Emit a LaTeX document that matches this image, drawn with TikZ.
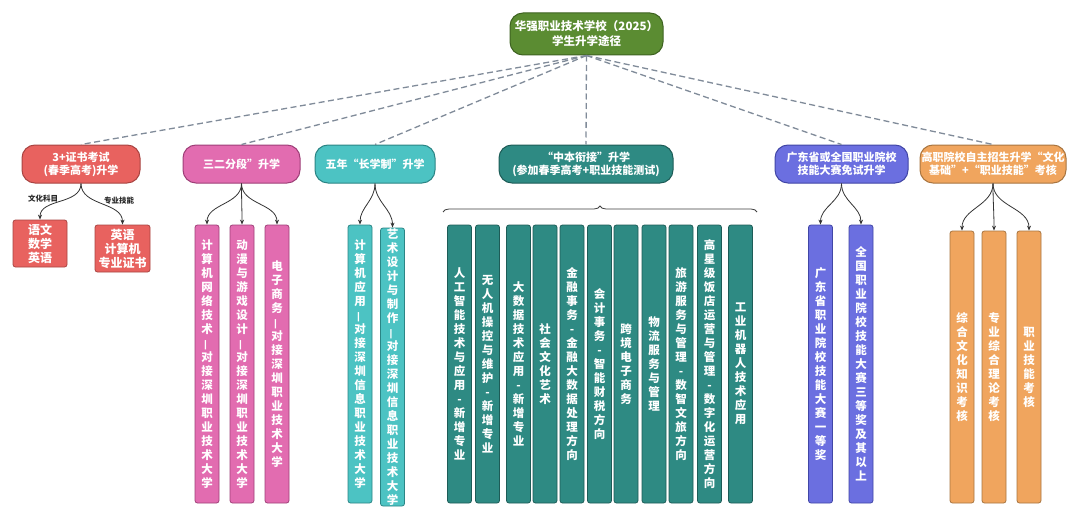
\documentclass[tikz,border=0pt]{standalone}
\usepackage{fontspec}
\usepackage{graphicx}
\setmainfont{Noto Sans CJK SC}
\usetikzlibrary{arrows.meta,decorations.pathreplacing}
\definecolor{cRoot}{HTML}{5B8C32}\definecolor{bRoot}{HTML}{3E6321}
\definecolor{cRed}{HTML}{E8625F}\definecolor{bRed}{HTML}{A94442}
\definecolor{cPink}{HTML}{E26CB0}\definecolor{bPink}{HTML}{9E3F78}
\definecolor{cLT}{HTML}{4CC3C3}\definecolor{bLT}{HTML}{2B8585}
\definecolor{cDT}{HTML}{2E8A83}\definecolor{bDT}{HTML}{1D5C57}
\definecolor{cBlue}{HTML}{6B6FE0}\definecolor{bBlue}{HTML}{4146A6}
\definecolor{cOr}{HTML}{F0A55E}\definecolor{bOr}{HTML}{A87540}
\definecolor{dashc}{HTML}{808B99}
\def\vtend{\vtend}
\def\vtchar#1{\hbox to 1.2em{\hss\ifx#1—\rotatebox[origin=c]{90}{—}\else#1\fi\hss}}
\def\vtloop#1{\ifx#1\vtend\else\vtchar{#1}\expandafter\vtloop\fi}
\newcommand\vt[1]{\vbox{\baselineskip=14pt\lineskiplimit=-20pt\lineskip=0pt\vtloop#1\vtend}}
\begin{document}
\begin{tikzpicture}[x=1pt,y=-1pt,
  pill/.style={rounded corners=13pt,line width=1pt,text=white,align=center,inner sep=0pt,font=\fontsize{11}{13}\selectfont\bfseries},
  leaf/.style={rounded corners=2.5pt,line width=0.8pt,text=white,inner sep=0pt,minimum width=24pt,minimum height=278pt,font=\fontsize{11.5}{14}\selectfont\bfseries},
  sbox/.style={rounded corners=2.5pt,line width=0.8pt,text=white,align=center,inner sep=0pt,font=\fontsize{12}{14}\selectfont\bfseries},
  dashln/.style={draw=dashc,line width=1.3pt,dash pattern=on 6pt off 3.5pt},
  arr/.style={draw=black!80,line width=0.8pt,-{Stealth[length=5pt,width=4pt]}},
  elab/.style={font=\fontsize{7.5}{9}\selectfont\bfseries,text=black!85}]
\path[use as bounding box,fill=white] (0,0) rectangle (1080,519);
% root
\node[pill,fill=cRoot,draw=bRoot,minimum width=153pt,minimum height=42pt,font=\fontsize{11.5}{15}\selectfont\bfseries] (root) at (586.5,34) {华强职业技术学校（2025）\\学生升学途径};
% second level
\node[pill,fill=cRed,draw=bRed,minimum width=118pt,minimum height=38pt] (n1) at (81,164) {3+证书考试\\(春季高考)升学};
\node[pill,fill=cPink,draw=bPink,minimum width=117pt,minimum height=38pt] (n2) at (241.5,164) {三二分段”升学};
\node[pill,fill=cLT,draw=bLT,minimum width=120pt,minimum height=38pt] (n3) at (375,164) {五年“长学制”升学};
\node[pill,fill=cDT,draw=bDT,minimum width=174pt,minimum height=38pt] (n4) at (586,164) {“中本衔接”升学\\(参加春季高考+职业技能测试)};
\node[pill,fill=cBlue,draw=bBlue,minimum width=133pt,minimum height=38pt] (n5) at (841.5,164) {广东省或全国职业院校\\技能大赛免试升学};
\node[pill,fill=cOr,draw=bOr,minimum width=146pt,minimum height=38pt] (n6) at (993,164) {高职院校自主招生升学“文化\\基础”+“职业技能”考核};
\foreach \n in {n1,n2,n3,n4,n5,n6} \draw[dashln] (root.south) -- (\n.north);
% node 1 children
\node[sbox,fill=cRed,draw=bRed,minimum width=54pt,minimum height=47pt] (a1) at (40,243.5) {语文\\数学\\英语};
\node[sbox,fill=cRed,draw=bRed,minimum width=55pt,minimum height=47pt] (a2) at (122.5,248.5) {英语\\计算机\\专业证书};
\draw[arr] (n1.south) to[out=-90,in=90] node[elab,pos=0.38,left=6pt] {文化科目} (a1.north);
\draw[arr] (n1.south) to[out=-90,in=90] node[elab,pos=0.38,right=6pt] {专业技能} (a2.north);
% node 2 children
\node[leaf,fill=cPink,draw=bPink] (b1) at (207,364) {\vt{计算机网络技术—对接深圳职业技术大学}};
\node[leaf,fill=cPink,draw=bPink] (b2) at (242,364) {\vt{动漫与游戏设计—对接深圳职业技术大学}};
\node[leaf,fill=cPink,draw=bPink] (b3) at (277,364) {\vt{电子商务—对接深圳职业技术大学}};
\foreach \c in {b1,b2,b3} \draw[arr] (n2.south) to[out=-90,in=90] (\c.north);
% node 3 children
\node[leaf,fill=cLT,draw=bLT] (c1) at (360,364) {\vt{计算机应用—对接深圳信息职业技术大学}};
\node[leaf,fill=cLT,draw=bLT] (c2) at (392.5,367) {\vt{艺术设计与制作—对接深圳信息职业技术大学}};
\foreach \c in {c1,c2} \draw[arr] (n3.south) to[out=-90,in=90] (\c.north);
% node 4 children
\draw[draw=black!75,line width=0.8pt,decorate,decoration={brace,amplitude=6pt}] (443,212) -- (757,212);
\node[leaf,fill=cDT,draw=bDT] (d1) at (459.5,364) {\vt{人工智能技术与应用-新增专业}};
\node[leaf,fill=cDT,draw=bDT] (d2) at (487.5,364) {\vt{无人机操控与维护-新增专业}};
\node[leaf,fill=cDT,draw=bDT] (d3) at (518.5,364) {\vt{大数据技术应用-新增专业}};
\node[leaf,fill=cDT,draw=bDT] (d4) at (545,364) {\vt{社会文化艺术}};
\node[leaf,fill=cDT,draw=bDT] (d5) at (572,364) {\vt{金融事务-金融大数据处理方向}};
\node[leaf,fill=cDT,draw=bDT] (d6) at (599.5,364) {\vt{会计事务-智能财税方向}};
\node[leaf,fill=cDT,draw=bDT] (d7) at (626,364) {\vt{跨境电子商务}};
\node[leaf,fill=cDT,draw=bDT] (d8) at (654,364) {\vt{物流服务与管理}};
\node[leaf,fill=cDT,draw=bDT] (d9) at (681,364) {\vt{旅游服务与管理-数智文旅方向}};
\node[leaf,fill=cDT,draw=bDT] (d10) at (709.5,364) {\vt{高星级饭店运营与管理-数字化运营方向}};
\node[leaf,fill=cDT,draw=bDT] (d11) at (740.5,364) {\vt{工业机器人技术应用}};
% node 5 children
\node[leaf,fill=cBlue,draw=bBlue] (e1) at (820.5,364) {\vt{广东省职业院校技能大赛一等奖}};
\node[leaf,fill=cBlue,draw=bBlue] (e2) at (861,364) {\vt{全国职业院校技能大赛三等奖及其以上}};
\foreach \c in {e1,e2} \draw[arr] (n5.south) to[out=-90,in=90] (\c.north);
% node 6 children
\node[leaf,fill=cOr,draw=bOr,minimum height=272pt] (f1) at (962,367) {\vt{综合文化知识考核}};
\node[leaf,fill=cOr,draw=bOr,minimum height=272pt] (f2) at (994,367) {\vt{专业综合理论考核}};
\node[leaf,fill=cOr,draw=bOr,minimum height=272pt] (f3) at (1029,367) {\vt{职业技能考核}};
\foreach \c in {f1,f2,f3} \draw[arr] (n6.south) to[out=-90,in=90] (\c.north);
\end{tikzpicture}
\end{document}
